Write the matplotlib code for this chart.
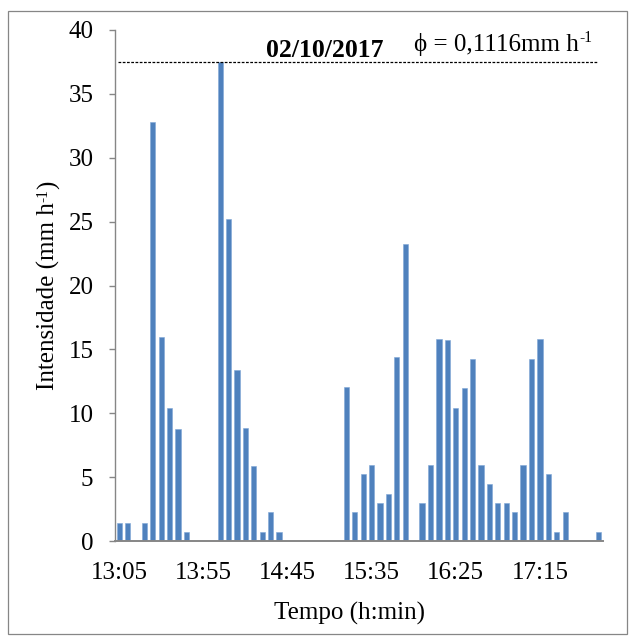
import matplotlib
matplotlib.use("Agg")
import matplotlib.pyplot as plt
from matplotlib.patches import Rectangle

# ---- data ----
times = ["13:05", "13:10", "13:15", "13:20", "13:25", "13:30", "13:35", "13:40", "13:45", "13:50",
         "13:55", "14:00", "14:05", "14:10", "14:15", "14:20", "14:25", "14:30", "14:35", "14:40",
         "14:45", "14:50", "14:55", "15:00", "15:05", "15:10", "15:15", "15:20", "15:25", "15:30",
         "15:35", "15:40", "15:45", "15:50", "15:55", "16:00", "16:05", "16:10", "16:15", "16:20",
         "16:25", "16:30", "16:35", "16:40", "16:45", "16:50", "16:55", "17:00", "17:05", "17:10",
         "17:15", "17:20", "17:25", "17:30", "17:35", "17:40", "17:45", "17:50"]
intensity = [1.43, 1.43, 0, 1.43, 32.8, 15.97, 10.41, 8.74, 0.7, 0,
             0, 0, 37.5, 25.2, 13.41, 8.87, 5.84, 0.7, 2.24, 0.7,
             0, 0, 0, 0, 0, 0, 0, 12.08, 2.24, 5.27,
             5.97, 2.97, 3.7, 14.37, 23.28, 0, 2.97, 5.97, 15.84, 15.7,
             10.41, 12.0, 14.27, 5.97, 4.43, 2.97, 2.97, 2.24, 5.97, 14.27,
             15.84, 5.27, 0.7, 2.24, 0, 0, 0, 0.7]
tick_labels = ["13:05", "13:55", "14:45", "15:35", "16:25", "17:15"]
y_ticks = [0, 5, 10, 15, 20, 25, 30, 35, 40]
date_text = "02/10/2017"
phi_text = "\u03d5 = 0,1116mm h"
sup_text = "-1"

# ---- style ----
plt.rcParams["font.family"] = ["Liberation Serif", "DejaVu Serif"]

W, H = 635, 641
FS = 18
fig = plt.figure(figsize=(W / 100, H / 100), dpi=100)
fig.patch.set_facecolor("white")

# outer chart border
fig.add_artist(Rectangle((8 / W, 1 - 634 / H), (627 - 8) / W, (634 - 11) / H,
                         transform=fig.transFigure, fill=False,
                         edgecolor="#868686", linewidth=0.9))

ax = fig.add_axes([115 / W, 1 - 541 / H, (603 - 115) / W, (541 - 30) / H])
x = list(range(len(times)))
ax.bar(x, intensity, width=0.62, color="#4F81BD", edgecolor="#7FA6D6", linewidth=0.4)

ax.set_xlim(-0.5, len(times) - 0.5)
ax.set_ylim(0, 40)
ax.set_yticks(y_ticks)
ax.set_yticklabels([str(v) for v in y_ticks], fontsize=FS)
tick_pos = [times.index(t) for t in tick_labels]
ax.set_xticks(tick_pos)
ax.set_xticklabels(tick_labels, fontsize=FS)

for s in ["top", "right"]:
    ax.spines[s].set_visible(False)
ax.spines["left"].set_color("#868686")
ax.spines["left"].set_linewidth(1.0)
ax.spines["bottom"].set_color("#868686")
ax.spines["bottom"].set_linewidth(1.4)
ax.tick_params(axis="y", direction="out", length=4.5, width=1.0, color="#868686", pad=11)
ax.tick_params(axis="x", length=0, pad=15)

# maximum reference line
ymax = max(intensity)
ax.axhline(ymax, xmin=0.006, xmax=0.988, color="black", linestyle=(0, (2.2, 1.2)), linewidth=0.9)

fig.text(266 / W, 1 - 57 / H, date_text, fontsize=FS + 0.5, fontweight="bold", ha="left", va="baseline")
t_phi = fig.text(414 / W, 1 - 51 / H, phi_text, fontsize=FS, ha="left", va="baseline")

fig.text(350 / W, 1 - 613 / H, "Tempo (h:min)", fontsize=FS, ha="center", va="center")

fig.canvas.draw()
r = fig.canvas.get_renderer()
bb = t_phi.get_window_extent(r)
fig.text(bb.x1 / W + 0.5 / W, (1 - 51 / H) + 9 / H, sup_text, fontsize=FS * 0.62,
         ha="left", va="baseline")

# rotated y label composed of pieces (superscript -1)
ylab_main = "Intensidade (mm h"
ylab_end = ")"
cx = 60 / W
t1 = fig.text(cx, 0, ylab_main, fontsize=FS, rotation=90, ha="left", va="bottom",
              rotation_mode="anchor")
fig.canvas.draw()
b1 = t1.get_window_extent(r)
sup_w = fig.text(0, 0, sup_text, fontsize=FS * 0.62, rotation=90)
t3 = fig.text(0, 0, ylab_end, fontsize=FS, rotation=90)
fig.canvas.draw()
bs = sup_w.get_window_extent(r)
b3 = t3.get_window_extent(r)
total = b1.height + bs.height + b3.height
y0 = (H - 285) - total / 2
t1.set_position((cx, y0 / H))
sup_w.set_rotation_mode("anchor")
sup_w.set_ha("left"); sup_w.set_va("bottom")
sup_w.set_position((cx - 9 / W, (y0 + b1.height) / H))
t3.set_rotation_mode("anchor")
t3.set_ha("left"); t3.set_va("bottom")
t3.set_position((cx, (y0 + b1.height + bs.height) / H))

fig.savefig("out.png", dpi=100, facecolor="white")
